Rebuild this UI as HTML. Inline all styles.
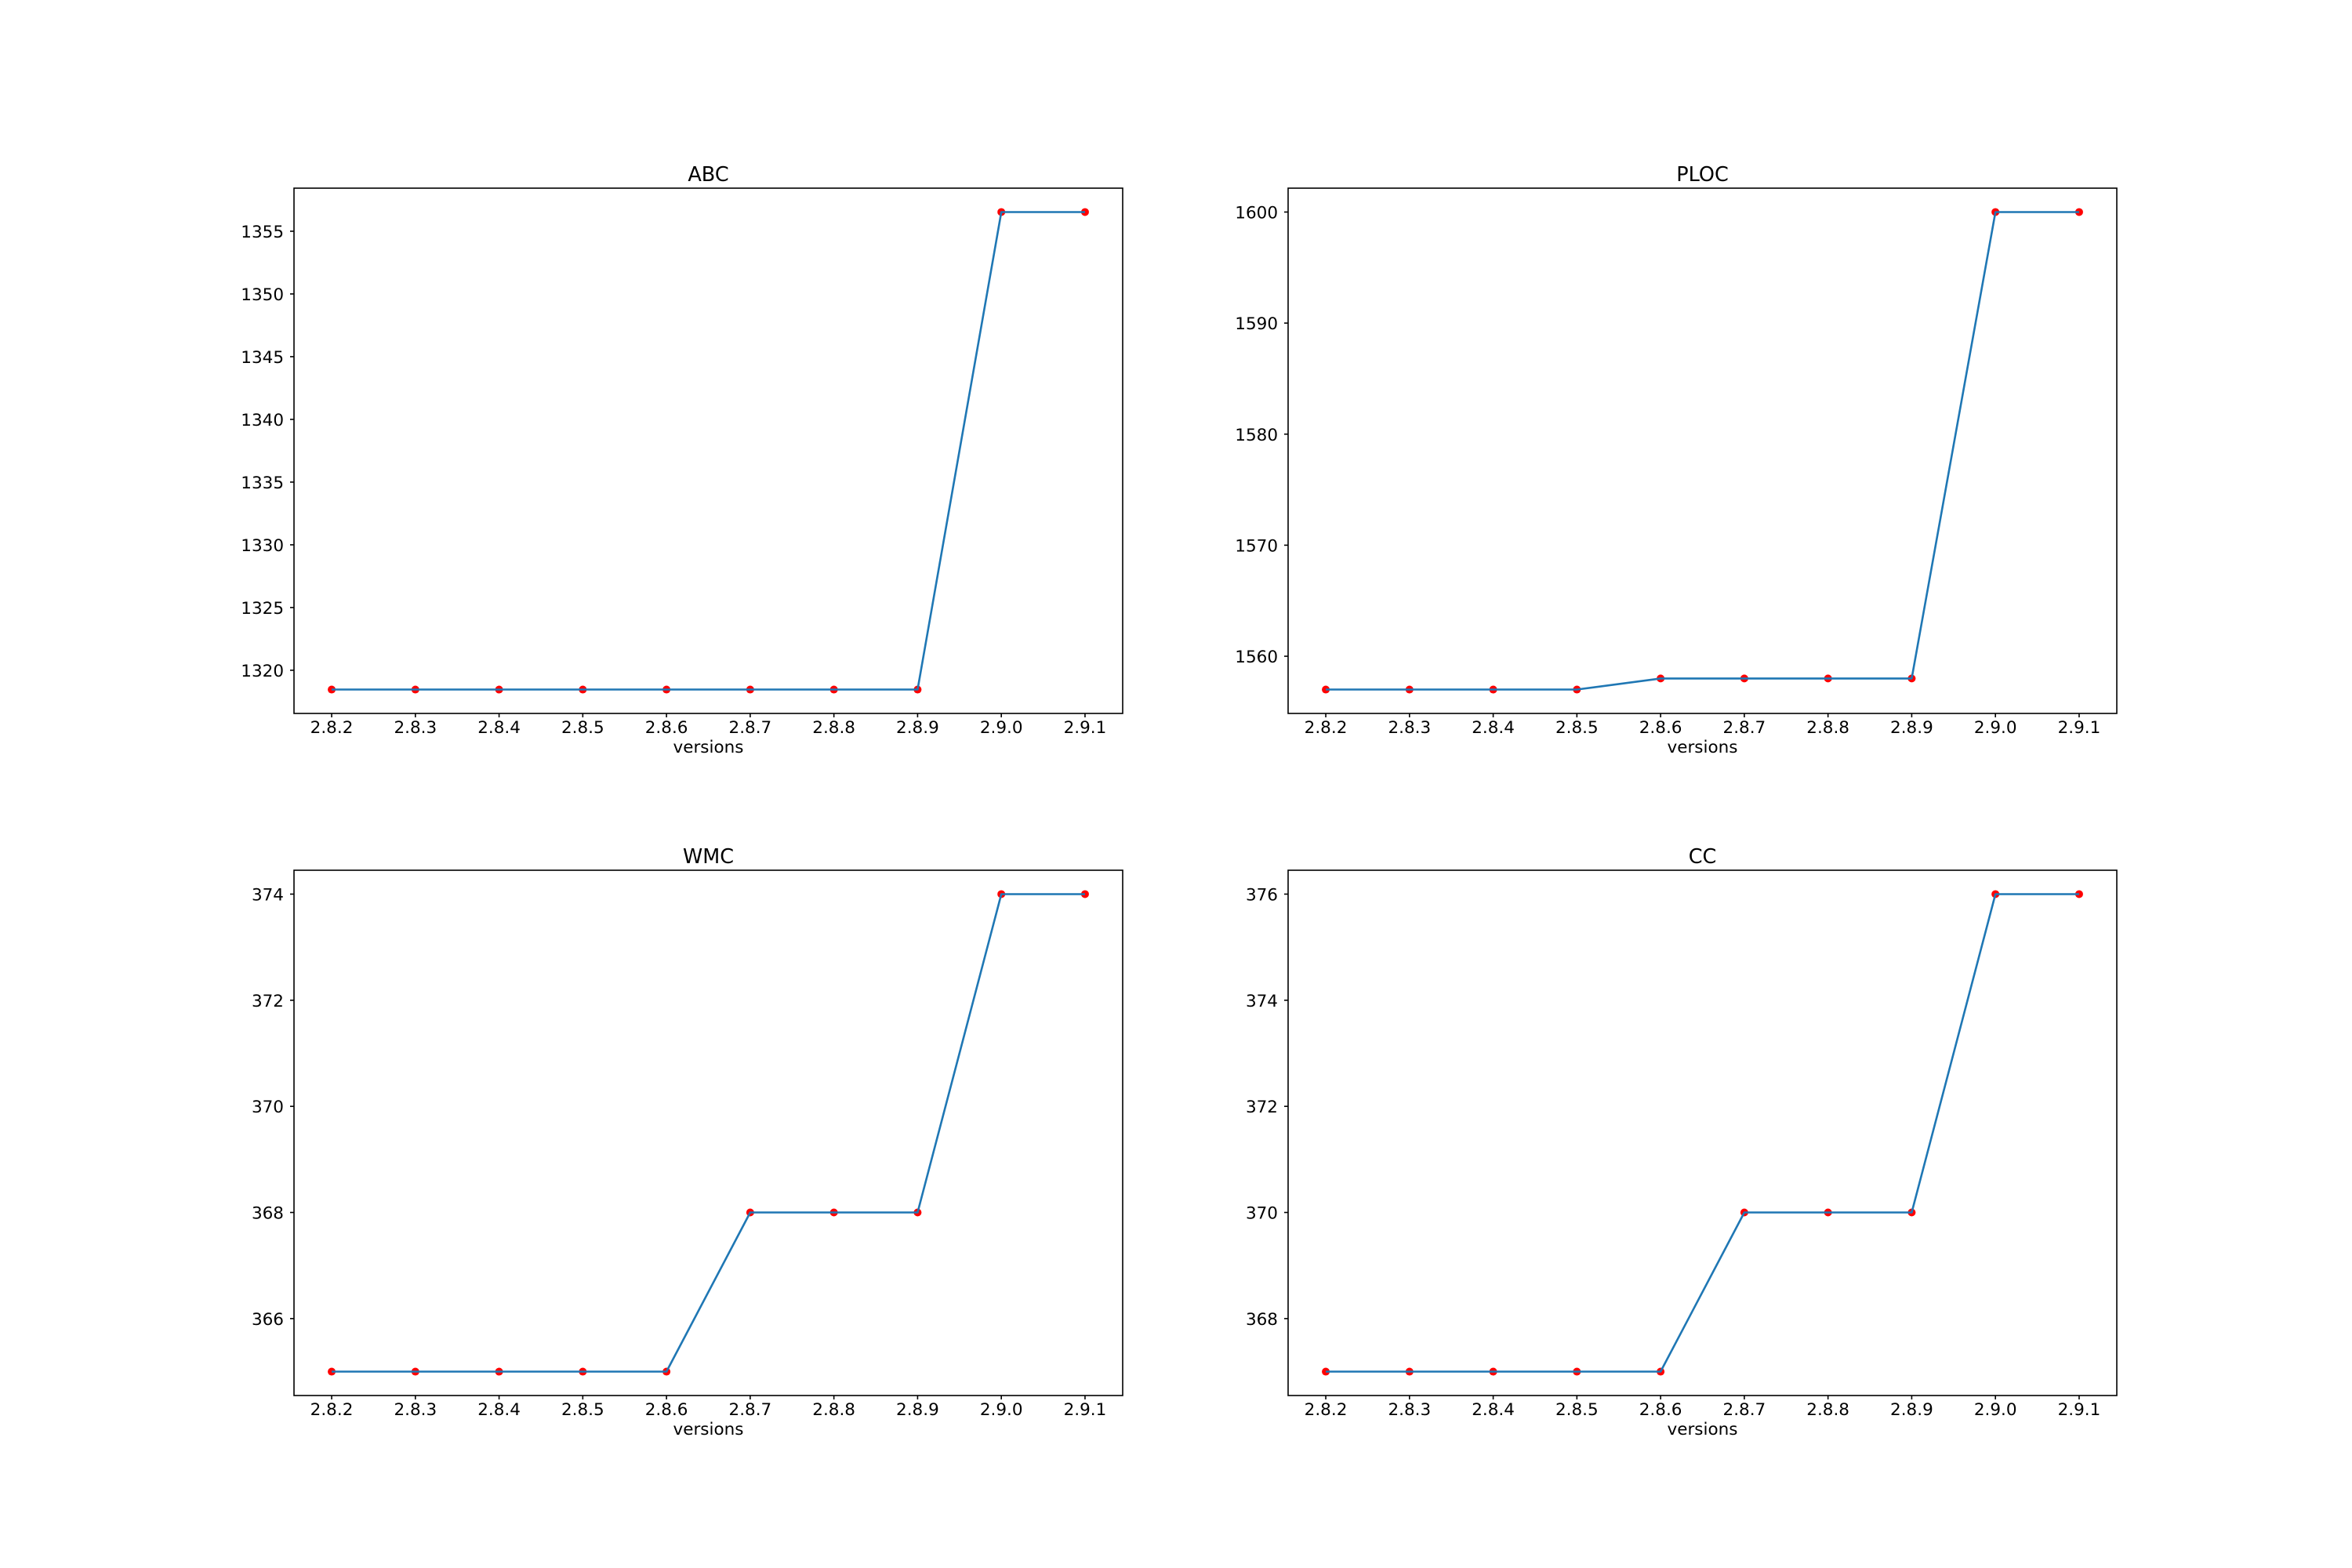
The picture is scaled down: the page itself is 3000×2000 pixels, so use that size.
<!DOCTYPE html>
<html><head><meta charset="utf-8"><style>
html,body{margin:0;padding:0;background:#fff;}
svg{display:block;font-family:"DejaVu Sans","Liberation Sans",sans-serif;}
</style></head><body>
<svg id="fig" width="3000" height="2000" viewBox="0 0 3000 2000" xmlns="http://www.w3.org/2000/svg">
<rect width="3000" height="2000" fill="#fff"/>
</svg>
<script>
const versions = ["2.8.2","2.8.3","2.8.4","2.8.5","2.8.6","2.8.7","2.8.8","2.8.9","2.9.0","2.9.1"];
const abcValues = [1318.46,1318.46,1318.46,1318.46,1318.46,1318.46,1318.46,1318.46,1356.53,1356.53];
const plocValues = [1557,1557,1557,1557,1558,1558,1558,1558,1600,1600];
const wmcValues = [365,365,365,365,365,368,368,368,374,374];
const ccValues = [367,367,367,367,367,370,370,370,376,376];
const abcTicks = [1320,1325,1330,1335,1340,1345,1350,1355];
const plocTicks = [1560,1570,1580,1590,1600];
const wmcTicks = [366,368,370,372,374];
const ccTicks = [368,370,372,374,376];

const NS = "http://www.w3.org/2000/svg";
const svg = document.getElementById('fig');
function mk(tag, attrs, parent){
  const e = document.createElementNS(NS, tag);
  for (const k in attrs) e.setAttribute(k, attrs[k]);
  (parent||svg).appendChild(e);
  return e;
}
const panels = [
  {title:"ABC", vals:abcValues, ticks:abcTicks, x0:375, y0:240},
  {title:"PLOC", vals:plocValues, ticks:plocTicks, x0:1643, y0:240},
  {title:"WMC", vals:wmcValues, ticks:wmcTicks, x0:375, y0:1110},
  {title:"CC", vals:ccValues, ticks:ccTicks, x0:1643, y0:1110}
];
const W = 1057, H = 670;
panels.forEach(p => {
  const g = mk('g', {});
  
  
  const n = versions.length;
  const xmin = -0.05*(n-1), xmax = (n-1)*1.05;
  const vmin = Math.min(...p.vals), vmax = Math.max(...p.vals);
  const r = vmax - vmin;
  const ymin = vmin - 0.05*r, ymax = vmax + 0.05*r;
  const xs = i => p.x0 + (i - xmin)/(xmax - xmin)*W;
  const ys = v => p.y0 + H - (v - ymin)/(ymax - ymin)*H;
  p.ticks.forEach(t => {
    const y = ys(t);
    const tk = mk('line', {x1:p.x0-5, x2:p.x0, y1:y, y2:y, stroke:'#000', 'stroke-width':1.6}, g);
    
    
    const tl = mk('text', {x:p.x0-13, y:y+8, 'font-size':21.5, 'text-anchor':'end', fill:'#000'}, g);
    tl.textContent = t;
    
    
  });
  versions.forEach((v,i) => {
    const x = xs(i);
    const tk = mk('line', {x1:x, x2:x, y1:p.y0+H, y2:p.y0+H+5, stroke:'#000', 'stroke-width':1.6}, g);
    
    
    const tl = mk('text', {x:x, y:p.y0+H+25, 'font-size':21.5, 'text-anchor':'middle', fill:'#000'}, g);
    tl.textContent = v;
    
    
  });
  p.vals.forEach((v,i) => {
    const c = mk('circle', {cx:xs(i), cy:ys(v), r:5, fill:'#ff0000'}, g);
    
    
  });
  const pts = p.vals.map((v,i) => xs(i).toFixed(1)+','+ys(v).toFixed(1)).join(' ');
  const pl = mk('polyline', {points:pts, fill:'none', stroke:'#1f77b4', 'stroke-width':2.6, 'stroke-linejoin':'round'}, g);
  
  
  const fr = mk('rect', {x:p.x0, y:p.y0, width:W, height:H, fill:'none', stroke:'#000', 'stroke-width':1.6}, g);
  
  
  const tt = mk('text', {x:p.x0+W/2, y:p.y0-9, 'font-size':25.5, 'text-anchor':'middle', fill:'#000'}, g);
  tt.textContent = p.title;
  
  
  const xl = mk('text', {x:p.x0+W/2, y:p.y0+H+50, 'font-size':21.5, 'text-anchor':'middle', fill:'#000'}, g);
  xl.textContent = 'versions';
  
  
});
</script>
</body></html>
